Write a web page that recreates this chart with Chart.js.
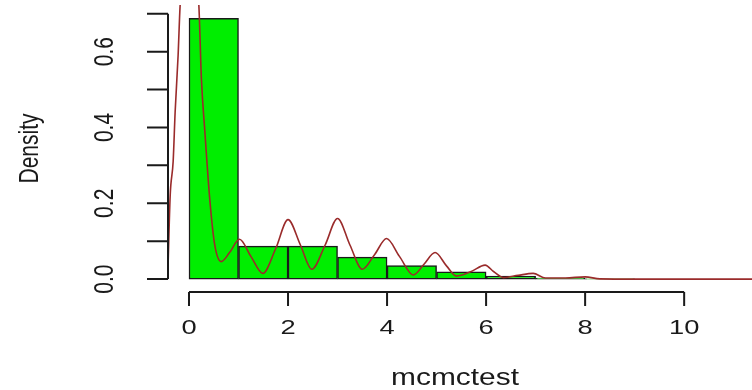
<!DOCTYPE html>
<html>
<head>
<meta charset="utf-8">
<script src="https://cdn.jsdelivr.net/npm/chart.js@4"></script>
<style>
    body { margin: 0; background: #fff; }
    #box { width: 752px; height: 390px; }
</style>
</head>
<body>
<div id="box"><canvas id="histChart" width="752" height="390"></canvas></div>
<script>
// histogram of mcmctest (density scale), bins of width 1
const binMids = [0.5, 1.5, 2.5, 3.5, 4.5, 5.5, 6.5, 7.5, 8.5];
const binDensity = [0.688, 0.087, 0.087, 0.058, 0.036, 0.019, 0.008, 0.003, 0.001];

// kernel density curve
const curveX = [-0.43, -0.38, -0.32, -0.28, -0.22, -0.18, 0.0, 0.2, 0.25, 0.32, 0.42, 0.52, 0.65,
    0.82, 1.02, 1.25, 1.49, 1.75, 2.0, 2.25, 2.48, 2.75, 3.0, 3.25, 3.5, 3.75, 3.99, 4.25, 4.53,
    4.75, 4.97, 5.2, 5.4, 5.7, 5.98, 6.15, 6.35, 6.65, 6.95, 7.2, 7.6, 8.0, 8.3, 9.0, 11.4];
const curveY = [0.0, 0.22, 0.31, 0.44, 0.59, 0.72, 1.0, 0.72, 0.53, 0.39, 0.21, 0.09, 0.046,
    0.07, 0.105, 0.06, 0.015, 0.08, 0.157, 0.09, 0.026, 0.09, 0.16, 0.09, 0.026, 0.065, 0.107, 0.06, 0.011,
    0.04, 0.07, 0.035, 0.008, 0.02, 0.037, 0.02, 0.004, 0.01, 0.015, 0.003, 0.003, 0.006, 0.0005, 0.0, 0.0];

const yTicks = [0, 0.1, 0.2, 0.3, 0.4, 0.5, 0.6, 0.7];
const yLabels = ["0.0", "0.2", "0.4", "0.6"];
const xTicks = [0, 2, 4, 6, 8, 10];

const FONT = '"Liberation Sans", Arial, sans-serif';
const STRETCH = 1.3; // the reference text is wider than it is tall

function stretchedText(ctx, txt, x, y, size, rotate) {
    ctx.save();
    ctx.translate(x, y);
    ctx.scale(STRETCH, 1);
    if (rotate) ctx.rotate(-Math.PI / 2);
    ctx.font = size + "px " + FONT;
    ctx.textAlign = "center";
    ctx.textBaseline = "middle";
    ctx.fillText(txt, 0, 0);
    ctx.restore();
}

// R-style axes: detached axis lines that only span the ticks
const rAxes = {
    id: "rAxes",
    afterDraw(chart) {
        const ctx = chart.ctx;
        const xs = chart.scales.x;
        const ys = chart.scales.y;
        const area = chart.chartArea;
        ctx.save();
        ctx.strokeStyle = "#1a1a1a";
        ctx.fillStyle = "#1a1a1a";
        ctx.lineWidth = 2;

        // y axis
        const yx = area.left;
        ctx.beginPath();
        ctx.moveTo(yx, ys.getPixelForValue(yTicks[0]));
        ctx.lineTo(yx, ys.getPixelForValue(yTicks[yTicks.length - 1]));
        yTicks.forEach(v => {
            const py = ys.getPixelForValue(v);
            ctx.moveTo(yx, py);
            ctx.lineTo(yx - 21, py);
        });
        ctx.stroke();
        yLabels.forEach(l => {
            stretchedText(ctx, l, 105, ys.getPixelForValue(parseFloat(l)), 21, true);
        });
        stretchedText(ctx, "Density", 30, (area.top + area.bottom) / 2, 21, true);

        // x axis
        const xy = area.bottom;
        ctx.beginPath();
        ctx.moveTo(xs.getPixelForValue(xTicks[0]), xy);
        ctx.lineTo(xs.getPixelForValue(xTicks[xTicks.length - 1]), xy);
        xTicks.forEach(v => {
            const px = xs.getPixelForValue(v);
            ctx.moveTo(px, xy);
            ctx.lineTo(px, xy + 14);
        });
        ctx.stroke();
        xTicks.forEach(v => {
            stretchedText(ctx, String(v), xs.getPixelForValue(v), 328, 21, false);
        });
        stretchedText(ctx, "mcmctest", 455, 379, 23, false);
        ctx.restore();
    }
};

new Chart(document.getElementById("histChart").getContext("2d"), {
    type: "bar",
    data: {
        datasets: [
            {
                type: "line",
                label: "density",
                data: curveX.map((x, i) => ({ x: x, y: curveY[i] })),
                borderColor: "#9a2b2b",
                borderWidth: 1.6,
                pointRadius: 0,
                cubicInterpolationMode: "monotone",
                fill: false,
                order: 0,
            },
            {
                label: "mcmctest",
                data: binMids.map((x, i) => ({ x: x, y: binDensity[i] })),
                backgroundColor: "#00ee00",
                borderColor: "#1a1a1a",
                borderWidth: 1.5,
                borderSkipped: false,
                barPercentage: 1,
                categoryPercentage: 1,
                order: 1,
            },
        ],
    },
    options: {
        responsive: false,
        animation: false,
        layout: { padding: { left: 168, right: 0, top: 5, bottom: 98 } },
        plugins: { legend: { display: false }, tooltip: { enabled: false } },
        scales: {
            x: { type: "linear", offset: false, min: -0.424, max: 11.37, display: false },
            y: { min: -0.034, max: 0.723, display: false },
        },
    },
    plugins: [rAxes],
});
</script>
</body>
</html>
